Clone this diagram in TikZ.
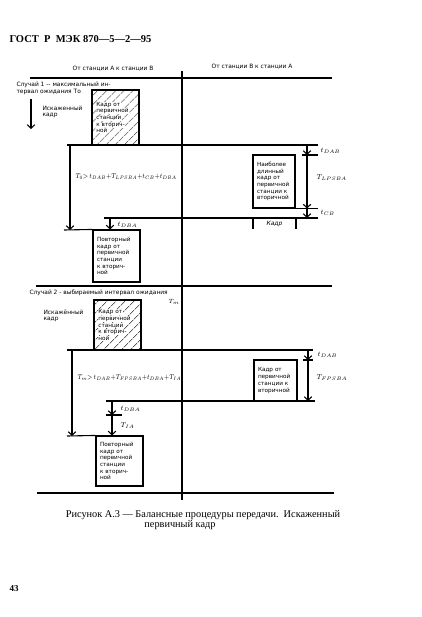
\documentclass[tikz,border=0pt]{standalone}
\usepackage{fontspec}
\usepackage{graphicx}
\setmainfont{Liberation Serif}
\newfontfamily\labfont{DejaVu Sans}
\usetikzlibrary{arrows.meta,patterns.meta}
\newcommand\whiteln[1]{{\setlength\fboxsep{0.4pt}\colorbox{white}{#1}}}

\begin{document}
\begin{tikzpicture}[x=1pt,y=-1pt,line width=1.1pt,
		>={Straight Barb[length=3.5pt,width=7.5pt]},
		lab/.style={font=\labfont\fontsize{5.9}{6.8}\selectfont, inner sep=0pt, align=left},
		mlab/.style={font=\fontsize{7}{8}\selectfont, inner sep=0pt, anchor=west},
		eqn/.style={font=\fontsize{7}{8}\selectfont, inner sep=0pt, anchor=west},
		frame/.style={draw, line width=1.1pt, inner xsep=4pt, inner ysep=0pt, align=left,
			font=\labfont\fontsize{5.7}{6.7}\selectfont},
		hatch/.style={frame, pattern={Lines[angle=45,distance=6.5pt,line width=0.7pt]}}]
	\useasboundingbox (0,0) rectangle (422,617);

	\node[anchor=west, inner sep=0pt, font=\bfseries\fontsize{10.5}{12}\selectfont] (head) at (9,39) {ГОСТ\ \ Р\ \ МЭК\ 870—5—2—95};
	\node[lab] (ab) at (113,69) {От станции А к станции В};
	\node[lab] (ba) at (252,67) {От станции В к станции А};
	\coordinate (top1) at (30,78);
	\coordinate (top2) at (332,78);
	\coordinate (mid1) at (182,71);
	\coordinate (mid2) at (182,500);
	\draw (top1) -- (top2);
	\draw (mid1) -- (mid2);

	\node[lab, anchor=north west] (case1) at (16,81.5) {Случай 1 -- максимальный ин-\\тервал ожидания То};
	\node[lab, anchor=north west] (err1) at (42,105) {Искаженный\\кадр};
	\coordinate (dn1) at (31,99);
	\coordinate (dn2) at (31,129);
	\draw[->] (dn1) -- (dn2);
	\node[hatch, minimum width=47, minimum height=55, text width=39] (h1) at (115.5,117.5) {\whiteln{Кадр от}\\\whiteln{первичной}\\\whiteln{станции}\\\whiteln{к вторич-}\\\whiteln{ной}};
	\coordinate (a1) at (67,145);
	\coordinate (a2) at (318,145);
	\draw (a1) -- (a2);
	\node[frame, minimum width=42, minimum height=53, text width=34] (b1) at (274,181.5) {Наиболее\\длинный\\кадр от\\первичной\\станции к\\вторичной};
	\coordinate (v1) at (307,145);
	\coordinate (p1) at (302,155);
	\coordinate (p2) at (318,155);
	\draw (p1) -- (p2);
	\draw (b1.south east) -- (b1.south east -| p2);
	\coordinate (k1) at (104,218);
	\coordinate (k2) at (318,218);
	\draw (k1) -- (k2);
	\draw[->] (v1) -- (v1 |- p1);
	\draw[->] (v1 |- p1) -- (v1 |- b1.south);
	\draw[->] (v1 |- b1.south) -- (v1 |- k1);
	\node[mlab] (tdab1) at (320,151) {$t_{DAB}$};
	\node[mlab] (tlps) at (316,178) {$T_{LPSBA}$};
	\node[mlab] (tcb) at (320,213) {$t_{CB}$};
	\coordinate (c1) at (253,218);
	\coordinate (c2) at (296,218);
	\draw (c1) -- ++(0,11);
	\draw (c2) -- ++(0,11);
	\node[lab, font=\labfont\itshape\fontsize{6}{7}\selectfont] (fr) at (274.5,223.5) {Кадр};
	\node[frame, minimum width=47, minimum height=52, text width=39] (n1) at (116.5,256) {Повторный\\кадр от\\первичной\\станции\\к вторич-\\ной};
	\coordinate (r1) at (64,230);
	\draw (r1) -- (n1.north west);
	\coordinate (w1) at (70,145);
	\draw[->] (w1) -- (w1 |- r1);
	\coordinate (u1) at (110,218);
	\draw[->] (u1) -- (u1 |- n1.north);
	\node[mlab] (tdba1) at (117,225) {$t_{DBA}$};
	\node[eqn] (eq1) at (75,177) {\scalebox{0.85}[1]{$T_0{>}\,t_{DAB}{+}T_{LPSBA}{+}t_{CB}{+}t_{DBA}$}};
	\coordinate (s1) at (36,286);
	\coordinate (s2) at (332,286);
	\draw (s1) -- (s2);

	\node[lab, anchor=west] (case2) at (29,293) {Случай 2 - выбираемый интервал ожидания};
	\node[mlab, font=\fontsize{6.5}{7}\selectfont] (tm) at (168,302) {$T_m$};
	\node[lab, anchor=north west] (err2) at (43,309) {Искажённый\\кадр};
	\node[hatch, minimum width=47, minimum height=50, text width=39] (h2) at (117.5,325) {\whiteln{Кадр от}\\\whiteln{первичной}\\\whiteln{станции}\\\whiteln{к вторич-}\\\whiteln{ной}};
	\coordinate (a3) at (67,350);
	\coordinate (a4) at (313,350);
	\draw (a3) -- (a4);
	\node[frame, minimum width=43, minimum height=41, text width=35] (b2) at (275.5,380.5) {Кадр от\\первичной\\станции к\\вторичной};
	\coordinate (v2) at (308,350);
	\coordinate (p3) at (303,360);
	\coordinate (p4) at (313,360);
	\draw (p3) -- (p4);
	\coordinate (k3) at (106,401);
	\coordinate (k4) at (315,401);
	\draw (k3) -- (k4);
	\draw[->] (v2) -- (v2 |- p3);
	\draw[->] (v2 |- p3) -- (v2 |- k3);
	\node[mlab] (tdab2) at (317,355) {$t_{DAB}$};
	\node[mlab] (tfps) at (316,378) {$T_{FPSBA}$};
	\node[eqn] (eq2) at (77,378) {\scalebox{0.85}[1]{$T_m{>}\,t_{DAB}{+}T_{FPSBA}{+}t_{DBA}{+}T_{IA}$}};
	\coordinate (u2) at (112,401);
	\coordinate (d1) at (106,415);
	\coordinate (d2) at (122,415);
	\draw (d1) -- (d2);
	\draw[->] (u2) -- (u2 |- d1);
	\node[frame, minimum width=47, minimum height=50, text width=39] (n2) at (119.5,461) {Повторный\\кадр от\\первичной\\станции\\к вторич-\\ной};
	\coordinate (r2) at (67,436);
	\draw (r2) -- (n2.north west);
	\draw[->] (u2 |- d1) -- (u2 |- n2.north);
	\node[mlab] (tdba2) at (120,409) {$t_{DBA}$};
	\node[mlab] (tia) at (120,426) {$T_{IA}$};
	\coordinate (w2) at (72,350);
	\draw[->] (w2) -- (w2 |- r2);
	\coordinate (s3) at (37,493);
	\coordinate (s4) at (334,493);
	\draw (s3) -- (s4);

	\node[inner sep=0pt, font=\fontsize{10.3}{11}\selectfont] (cap1) at (203,515) {Рисунок А.3 — Балансные процедуры передачи.\ \ Искаженный};
	\node[inner sep=0pt, font=\fontsize{10.3}{11}\selectfont] (cap2) at (180,525) {первичный кадр};
	\node[anchor=west, inner sep=0pt, font=\bfseries\fontsize{9}{10}\selectfont] (page) at (9,589) {43};
\end{tikzpicture}
\end{document}
